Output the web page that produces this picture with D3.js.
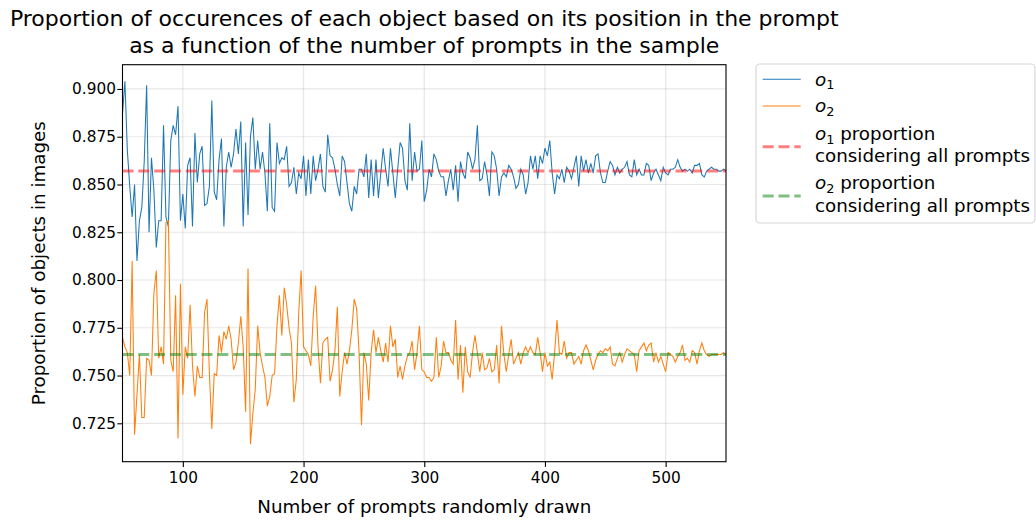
<!DOCTYPE html>
<html>
<head>
<meta charset="utf-8">
<script src="https://cdn.jsdelivr.net/npm/d3@7"></script>
<style>
  body { margin: 0; background: #fff; }
  svg { display: block; }
  text { font-family: "DejaVu Sans", sans-serif; fill: #000; }
</style>
</head>
<body>
<div class="mainDiv"></div>
<script>
// number of prompts drawn: 50, 52, ... 550
const prompts = d3.range(50, 551, 2);

// proportion of o1 (first object in the prompt) found in the images
const o1Values = [
  0.887, 0.904, 0.868, 0.849, 0.833, 0.850, 0.810, 0.831, 0.838, 0.862, 0.902, 0.825, 0.864, 0.847, 0.817,
  0.831, 0.831, 0.881, 0.833, 0.828, 0.873, 0.881, 0.876, 0.891, 0.831, 0.845, 0.827, 0.860, 0.864, 0.828,
  0.877, 0.851, 0.866, 0.870, 0.839, 0.840, 0.849, 0.894, 0.846, 0.842, 0.863, 0.874, 0.828,
  0.859, 0.867, 0.859, 0.866, 0.879, 0.866, 0.883, 0.828, 0.872, 0.834, 0.875, 0.885, 0.858, 0.873, 0.858,
  0.867, 0.856, 0.836, 0.882, 0.838, 0.836, 0.872, 0.861, 0.864, 0.863, 0.870, 0.849, 0.851, 0.859, 0.845,
  0.856, 0.853, 0.865, 0.844, 0.863, 0.845, 0.865, 0.852, 0.858, 0.866, 0.849, 0.846,
  0.876, 0.865, 0.864, 0.858, 0.850, 0.844, 0.865, 0.862, 0.851, 0.840, 0.836, 0.849, 0.845, 0.858, 0.858,
  0.854, 0.866, 0.843, 0.863, 0.844, 0.863, 0.843, 0.856, 0.869, 0.858, 0.849, 0.869, 0.856, 0.843, 0.858,
  0.872, 0.869, 0.852, 0.847, 0.882, 0.852, 0.867, 0.857, 0.858, 0.873, 0.841,
  0.847, 0.858, 0.854, 0.866, 0.863, 0.857, 0.854, 0.854, 0.844, 0.852, 0.858, 0.847, 0.860, 0.841, 0.862,
  0.856, 0.853, 0.867, 0.864, 0.858, 0.863, 0.881, 0.852, 0.853, 0.862, 0.855, 0.844, 0.867, 0.865, 0.858,
  0.844, 0.854, 0.856, 0.854, 0.860, 0.858, 0.854, 0.848, 0.850, 0.858, 0.855, 0.845,
  0.851, 0.865, 0.858, 0.865, 0.853, 0.865, 0.861, 0.869, 0.865, 0.873, 0.856, 0.845, 0.855, 0.853, 0.858,
  0.851, 0.859, 0.857, 0.853, 0.859, 0.865, 0.849, 0.865, 0.857, 0.863, 0.856, 0.861, 0.856, 0.865, 0.866,
  0.856, 0.851, 0.851, 0.857, 0.862, 0.860, 0.855, 0.859, 0.856, 0.858, 0.859,
  0.862, 0.855, 0.854, 0.863, 0.855, 0.858, 0.855, 0.855, 0.861, 0.860, 0.852, 0.856, 0.858, 0.855, 0.852,
  0.859, 0.856, 0.855, 0.858, 0.858, 0.859, 0.863, 0.859, 0.857, 0.858, 0.857, 0.858, 0.856, 0.860, 0.860,
  0.861, 0.855, 0.854, 0.857, 0.858, 0.859, 0.858, 0.858, 0.857, 0.857, 0.858, 0.857
];

// proportion of o2 (second object in the prompt) found in the images
const o2Values = [
  0.770, 0.765, 0.762, 0.750, 0.810, 0.719, 0.740, 0.761, 0.728, 0.728, 0.759, 0.758, 0.750, 0.793, 0.805,
  0.759, 0.765, 0.756, 0.830, 0.831, 0.758, 0.752, 0.792, 0.717, 0.798, 0.740, 0.765, 0.759, 0.787, 0.755,
  0.739, 0.755, 0.749, 0.749, 0.783, 0.790, 0.751, 0.722, 0.751, 0.750, 0.771, 0.762, 0.773,
  0.769, 0.776, 0.769, 0.753, 0.757, 0.767, 0.781, 0.765, 0.731, 0.806, 0.714, 0.730, 0.743, 0.776, 0.762,
  0.755, 0.749, 0.734, 0.739, 0.750, 0.751, 0.776, 0.792, 0.771, 0.796, 0.787, 0.775, 0.767, 0.736, 0.748,
  0.783, 0.805, 0.765, 0.763, 0.761, 0.755, 0.781, 0.797, 0.765, 0.746, 0.767, 0.769,
  0.770, 0.747, 0.753, 0.763, 0.786, 0.739, 0.752, 0.762, 0.756, 0.763, 0.774, 0.790, 0.785, 0.762, 0.724,
  0.762, 0.756, 0.737, 0.762, 0.774, 0.762, 0.770, 0.763, 0.757, 0.767, 0.757, 0.776, 0.765, 0.769, 0.749,
  0.755, 0.748, 0.755, 0.760, 0.762, 0.768, 0.753, 0.762, 0.776, 0.753, 0.752,
  0.749, 0.749, 0.747, 0.749, 0.770, 0.749, 0.755, 0.768, 0.762, 0.762, 0.758, 0.756, 0.779, 0.748, 0.766,
  0.741, 0.765, 0.752, 0.749, 0.762, 0.771, 0.762, 0.752, 0.762, 0.753, 0.754, 0.759, 0.752, 0.753, 0.766,
  0.746, 0.776, 0.761, 0.752, 0.761, 0.769, 0.756, 0.759, 0.762, 0.756, 0.762, 0.765,
  0.762, 0.765, 0.762, 0.761, 0.770, 0.762, 0.752, 0.762, 0.755, 0.757, 0.748, 0.762, 0.779, 0.762, 0.761,
  0.768, 0.759, 0.762, 0.762, 0.756, 0.758, 0.760, 0.756, 0.763, 0.766, 0.763, 0.758, 0.753, 0.758, 0.761,
  0.763, 0.762, 0.764, 0.763, 0.765, 0.756, 0.755, 0.759, 0.762, 0.757, 0.761,
  0.764, 0.763, 0.762, 0.761, 0.752, 0.763, 0.765, 0.767, 0.763, 0.766, 0.767, 0.757, 0.762, 0.757, 0.760,
  0.756, 0.752, 0.762, 0.761, 0.760, 0.757, 0.760, 0.762, 0.766, 0.758, 0.759, 0.757, 0.763, 0.762, 0.756,
  0.763, 0.767, 0.763, 0.761, 0.760, 0.761, 0.761, 0.761, 0.761, 0.761, 0.762, 0.761
];

// proportions considering all prompts
const o1All = 0.857;
const o2All = 0.761;

const xTicks = [100, 200, 300, 400, 500];
const yTicks = [0.725, 0.750, 0.775, 0.800, 0.825, 0.850, 0.875, 0.900];

const W = 1036, H = 522;
const plot = { left: 122.5, right: 726, top: 64.7, bottom: 461.7 };
const tickFont = 15.3, labelFont = 18.3, titleFont = 22;

const svg = d3.select('.mainDiv').append('svg')
  .attr('width', W).attr('height', H);

const x = d3.scaleLinear().domain([50, 550]).range([plot.left, plot.right]);
const y = d3.scaleLinear().domain([0.7049, 0.9127]).range([plot.bottom, plot.top]);

// grid
const grid = svg.append('g').attr('stroke', '#b0b0b0').attr('stroke-opacity', 0.3).attr('stroke-width', 1.2);
grid.selectAll('.gx').data(xTicks).join('line')
  .attr('x1', d => x(d)).attr('x2', d => x(d))
  .attr('y1', plot.top).attr('y2', plot.bottom);
grid.selectAll('.gy').data(yTicks).join('line')
  .attr('x1', plot.left).attr('x2', plot.right)
  .attr('y1', d => y(d)).attr('y2', d => y(d));

// series
const line = d3.line().x((d, i) => x(prompts[i])).y(d => y(d));
svg.append('path').datum(o1Values)
  .attr('d', line).attr('fill', 'none')
  .attr('stroke', '#1f77b4').attr('stroke-width', 1.05);
svg.append('path').datum(o2Values)
  .attr('d', line).attr('fill', 'none')
  .attr('stroke', '#ff7f0e').attr('stroke-width', 1.05);

// overall proportions
const dash = '11,4.8';
[[o1All, 'red'], [o2All, 'green']].forEach(([v, c]) => {
  svg.append('line')
    .attr('x1', plot.left).attr('x2', plot.right)
    .attr('y1', y(v)).attr('y2', y(v))
    .attr('stroke', c).attr('stroke-opacity', 0.5)
    .attr('stroke-width', 3).attr('stroke-dasharray', dash);
});

// frame
svg.append('rect')
  .attr('x', plot.left).attr('y', plot.top)
  .attr('width', plot.right - plot.left).attr('height', plot.bottom - plot.top)
  .attr('fill', 'none').attr('stroke', '#000').attr('stroke-width', 1.1);

// axes
const xAxis = svg.append('g')
  .attr('transform', `translate(0,${plot.bottom})`)
  .call(d3.axisBottom(x).tickValues(xTicks).tickSize(5.2).tickPadding(5.2));
const yAxis = svg.append('g')
  .attr('transform', `translate(${plot.left},0)`)
  .call(d3.axisLeft(y).tickValues(yTicks).tickFormat(d3.format('.3f')).tickSize(5.2).tickPadding(1.4));
[xAxis, yAxis].forEach(a => {
  a.select('.domain').remove();
  a.selectAll('.tick line').attr('stroke', '#000').attr('stroke-width', 1.1);
  a.selectAll('.tick text').attr('fill', '#000')
    .style('font-family', '"DejaVu Sans", sans-serif').style('font-size', tickFont + 'px');
});

// labels
svg.append('text')
  .attr('x', (plot.left + plot.right) / 2).attr('y', 513)
  .attr('text-anchor', 'middle').style('font-size', labelFont + 'px')
  .text('Number of prompts randomly drawn');
svg.append('text')
  .attr('transform', `translate(45,${(plot.top + plot.bottom) / 2}) rotate(-90)`)
  .attr('text-anchor', 'middle').style('font-size', labelFont + 'px')
  .text('Proportion of objects in images');

// title
const titleLines = ['Proportion of occurences of each object based on its position in the prompt',
                    'as a function of the number of prompts in the sample'];
svg.selectAll('.title').data(titleLines).join('text')
  .attr('x', (plot.left + plot.right) / 2).attr('y', (d, i) => 26 + i * 26.5)
  .attr('text-anchor', 'middle').style('font-size', titleFont + 'px')
  .text(d => d);

// legend
const legend = svg.append('g');
legend.append('rect')
  .attr('x', 756).attr('y', 64).attr('width', 279).attr('height', 159).attr('rx', 4)
  .attr('fill', '#fff').attr('fill-opacity', 0.8)
  .attr('stroke', '#cccccc').attr('stroke-opacity', 0.8).attr('stroke-width', 1.2);

const legendItems = [
  { sub: '1', rest: [''], color: '#1f77b4', width: 1.05, dash: null, opacity: 1, ly: 79.3, ty: [85.5] },
  { sub: '2', rest: [''], color: '#ff7f0e', width: 1.05, dash: null, opacity: 1, ly: 106, ty: [112] },
  { sub: '1', rest: [' proportion', 'considering all prompts'], color: 'red', width: 3, dash: dash, opacity: 0.5, ly: 146.7, ty: [140, 161.7] },
  { sub: '2', rest: [' proportion', 'considering all prompts'], color: 'green', width: 3, dash: dash, opacity: 0.5, ly: 196, ty: [189.3, 211.7] }
];

legendItems.forEach(it => {
  legend.append('line')
    .attr('x1', 762.7).attr('x2', 800.7).attr('y1', it.ly).attr('y2', it.ly)
    .attr('stroke', it.color).attr('stroke-opacity', it.opacity)
    .attr('stroke-width', it.width).attr('stroke-dasharray', it.dash);
  const t = legend.append('text')
    .attr('x', 815).attr('y', it.ty[0]).style('font-size', labelFont + 'px');
  t.append('tspan').style('font-style', 'italic').text('o');
  t.append('tspan').attr('dy', 3.5).style('font-size', (labelFont * 0.7) + 'px').text(it.sub);
  t.append('tspan').attr('dy', -3.5).text(it.rest[0]);
  if (it.rest[1]) {
    legend.append('text')
      .attr('x', 815).attr('y', it.ty[1]).style('font-size', labelFont + 'px')
      .text(it.rest[1]);
  }
});
</script>
</body>
</html>
